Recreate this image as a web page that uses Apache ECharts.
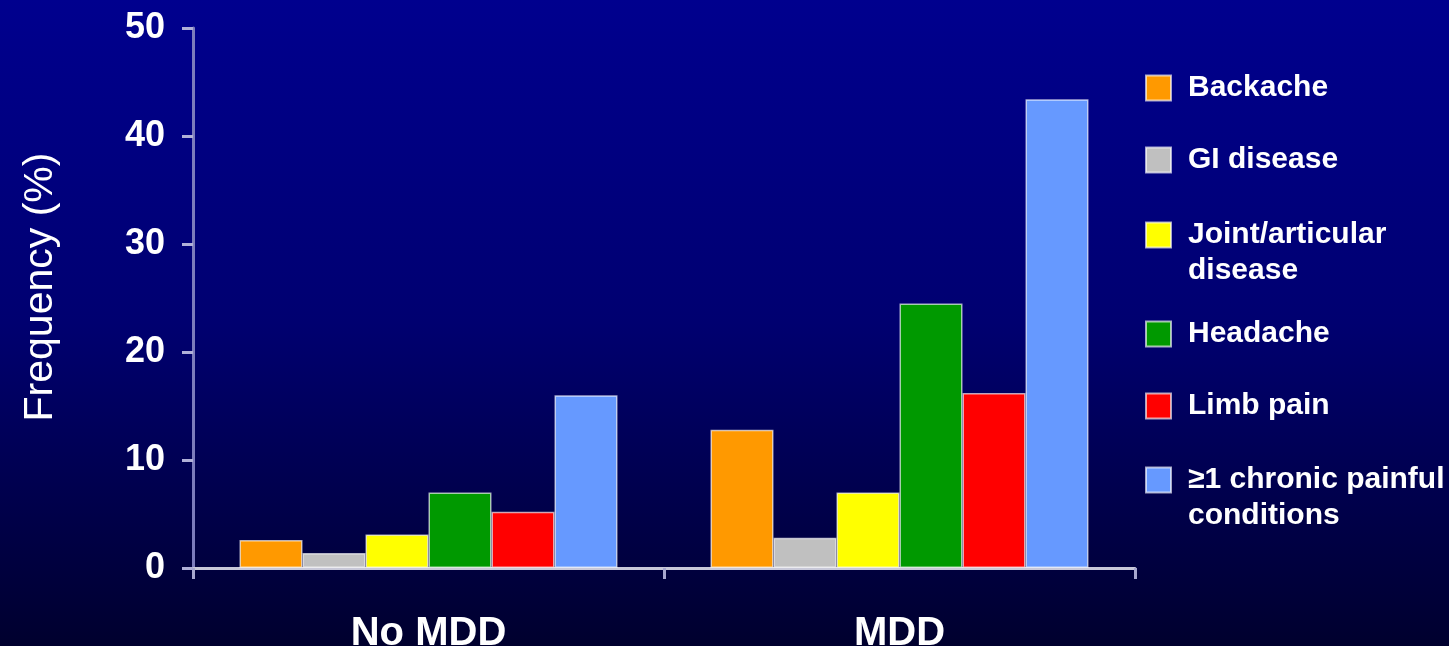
<!DOCTYPE html>
<html>
<head>
<meta charset="utf-8">
<title>Frequency of chronic painful conditions</title>
<script src="https://cdn.jsdelivr.net/npm/echarts@6/dist/echarts.min.js"></script>
<style>
  html, body { margin: 0; padding: 0; background: #000060; }
  #chart { width: 1449px; height: 646px; }
</style>
</head>
<body>
<div id="chart"></div>
<script>
// Groups on the x axis
const categories = ['No MDD', 'MDD'];

// Painful conditions (one bar series each) and their legend labels
const conditions = ['Backache', 'GI disease', 'Joint/articular disease', 'Headache', 'Limb pain', '≥1 chronic painful conditions'];
const legendLabels = ['Backache', 'GI disease', 'Joint/articular\ndisease', 'Headache', 'Limb pain', '≥1 chronic painful\nconditions'];

// Frequency (%) per condition, in condition order
const noMddValues = [2.6, 1.4, 3.1, 7.0, 5.2, 16.0];
const mddValues = [12.8, 2.8, 7.0, 24.5, 16.2, 43.4];

// Y-axis ticks
const yTicks = [0, 10, 20, 30, 40, 50];

const barColors = ['#FF9900', '#C0C0C0', '#FFFF00', '#009900', '#FF0000', '#6699FF'];

// Vertical centre of each legend swatch
const legendCenters = [88, 160, 235, 334, 406, 480];

const chart = echarts.init(document.getElementById('chart'), null, { renderer: 'canvas' });

const series = conditions.map((name, i) => ({
  name: name,
  type: 'bar',
  barWidth: 63,
  barGap: '0%',
  data: [noMddValues[i], mddValues[i]],
  itemStyle: {
    color: barColors[i],
    borderColor: 'rgba(255,255,255,0.65)',
    borderWidth: 1.5
  },
  emphasis: { disabled: true }
}));

// One legend per entry so each swatch sits beside the first line of its label.
// Wrapped labels get an empty leading line so the block stays centred on the swatch.
const legends = conditions.map((name, i) => {
  const twoLine = legendLabels[i].indexOf('\n') >= 0;
  return {
    data: [name],
    left: 1145,
    top: twoLine ? legendCenters[i] - 54 : legendCenters[i] - 18,
    padding: 0,
    icon: 'rect',
    itemWidth: 25,
    itemHeight: 25,
    selectedMode: false,
    formatter: () => (twoLine ? '\n' : '') + legendLabels[i],
    textStyle: {
      color: '#FFFFFF',
      fontFamily: 'Liberation Sans, Arial, sans-serif',
      fontWeight: 'bold',
      fontSize: 30,
      lineHeight: 36,
      padding: [0, 0, 0, 12]
    }
  };
});

const option = {
  animation: false,
  backgroundColor: {
    type: 'linear', x: 0, y: 0, x2: 0, y2: 1,
    colorStops: [
      { offset: 0, color: '#00008E' },
      { offset: 0.5, color: '#000070' },
      { offset: 1, color: '#00002E' }
    ]
  },
  grid: { left: 193, right: 314, top: 28, bottom: 78, containLabel: false, outerBoundsMode: 'none' },
  legend: legends,
  xAxis: {
    type: 'category',
    data: categories,
    axisLine: { lineStyle: { color: '#C8C8D8', width: 3 } },
    axisTick: { show: true, length: 11, lineStyle: { color: '#A8A8D0', width: 3 } },
    axisLabel: {
      color: '#FFFFFF',
      fontFamily: 'Liberation Sans, Arial, sans-serif',
      fontWeight: 'bold',
      fontSize: 40,
      margin: 46
    }
  },
  yAxis: {
    type: 'value',
    min: yTicks[0],
    max: yTicks[yTicks.length - 1],
    interval: yTicks[1] - yTicks[0],
    name: 'Frequency (%)',
    nameLocation: 'middle',
    nameGap: 132,
    nameTextStyle: {
      color: '#FFFFFF',
      fontFamily: 'Liberation Sans, Arial, sans-serif',
      fontSize: 41,
      padding: [0, 0, 0, 22]
    },
    axisLine: { show: true, lineStyle: { color: '#7C7CBC', width: 3 } },
    axisTick: { show: true, length: 11, lineStyle: { color: '#B0B0D8', width: 3 } },
    splitLine: { show: false },
    axisLabel: {
      color: '#FFFFFF',
      fontFamily: 'Liberation Sans, Arial, sans-serif',
      fontWeight: 'bold',
      fontSize: 36,
      margin: 28
    }
  },
  series: series
};

chart.setOption(option);
</script>
</body>
</html>
